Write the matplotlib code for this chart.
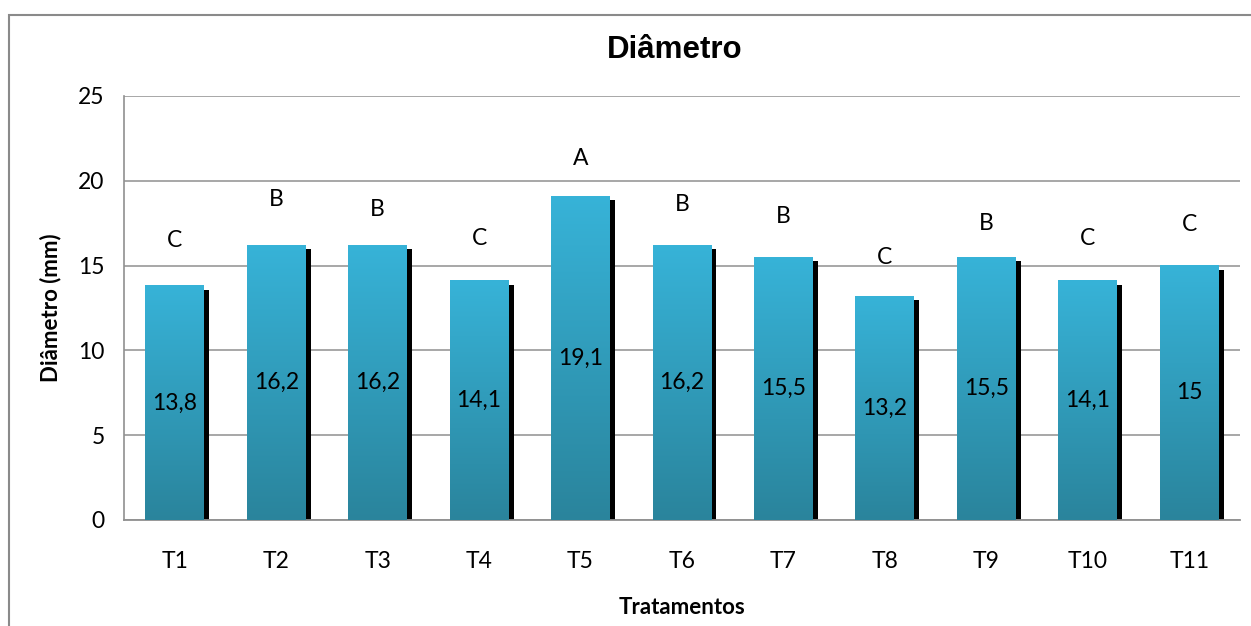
import numpy as np
import matplotlib
matplotlib.use("Agg")
import matplotlib.pyplot as plt
from matplotlib.colors import LinearSegmentedColormap
from matplotlib.patches import Rectangle

categories = ["T1", "T2", "T3", "T4", "T5", "T6", "T7", "T8", "T9", "T10", "T11"]
values = [13.8, 16.2, 16.2, 14.1, 19.1, 16.2, 15.5, 13.2, 15.5, 14.1, 15.0]
value_labels = ["13,8", "16,2", "16,2", "14,1", "19,1", "16,2", "15,5", "13,2", "15,5", "14,1", "15"]
groups = ["C", "B", "B", "C", "A", "B", "B", "C", "B", "C", "C"]
group_label_y = [16.5, 18.9, 18.3, 16.6, 21.3, 18.6, 17.9, 15.5, 17.5, 16.6, 17.4]

W, H = 1251, 626
fig = plt.figure(figsize=(W / 100, H / 100), dpi=100)
ax = fig.add_axes([124 / W, 1 - 520 / H, (1240 - 124) / W, (520 - 96) / H])

font = "Lato"
fs = 16.5
cmap = LinearSegmentedColormap.from_list("bar", ["#2a849c", "#37b3d8"])
grad = np.linspace(0, 1, 256).reshape(-1, 1)

bar_w = 0.58
shadow_dx = 0.05
x = np.arange(len(categories))
for i, (v, lab, g, gy) in enumerate(zip(values, value_labels, groups, group_label_y)):
    x0 = i - bar_w / 2
    # drop shadow on the right
    ax.add_patch(Rectangle((x0 + shadow_dx, 0), bar_w, v - 0.24,
                           facecolor="black", edgecolor="none", zorder=2))
    ax.imshow(grad, cmap=cmap, origin="lower", aspect="auto",
              extent=[x0, x0 + bar_w, 0, v], zorder=3)
    ax.text(i, v / 2, lab, ha="center", va="center", fontsize=fs,
            family=font, color="black", zorder=4)
    ax.text(i, gy, g, ha="center", va="center", fontsize=fs,
            family=font, color="black", zorder=4)

ax.set_xlim(-0.5, len(categories) - 0.5)
ax.set_ylim(0, 25)
ax.set_yticks(range(0, 26, 5))
ax.set_xticks(x)
ax.set_xticklabels(categories, family=font, fontsize=fs)
for t in ax.get_yticklabels():
    t.set_family(font)
    t.set_fontsize(fs)
ax.yaxis.grid(True, color="#a0a0a0", linewidth=1.3, zorder=0)
ax.set_axisbelow(True)
for s in ["top", "right"]:
    ax.spines[s].set_visible(False)
ax.spines["left"].set_color("#909090")
ax.spines["bottom"].set_color("#909090")
ax.spines["left"].set_linewidth(1.2)
ax.spines["bottom"].set_linewidth(1.3)
ax.tick_params(axis="x", length=0, pad=22)
ax.tick_params(axis="y", length=0, pad=14)

ax.set_xlabel("Tratamentos", family=font, fontweight="bold", fontsize=16, labelpad=18)
ax.set_ylabel("Diâmetro (mm)", family=font, fontweight="bold", fontsize=16, labelpad=12)

fig.text(675 / W, 1 - 50 / H, "Diâmetro", ha="center", va="center",
         family="Liberation Sans", fontweight="bold", fontsize=22.5)

# outer chart frame
fig.add_artist(Rectangle((9 / W, -0.1), 1.2, 1 - 15 / H + 0.1, transform=fig.transFigure,
                         facecolor="none", edgecolor="#8a8a8a", linewidth=1.5))

fig.savefig("out.png", dpi=100)
